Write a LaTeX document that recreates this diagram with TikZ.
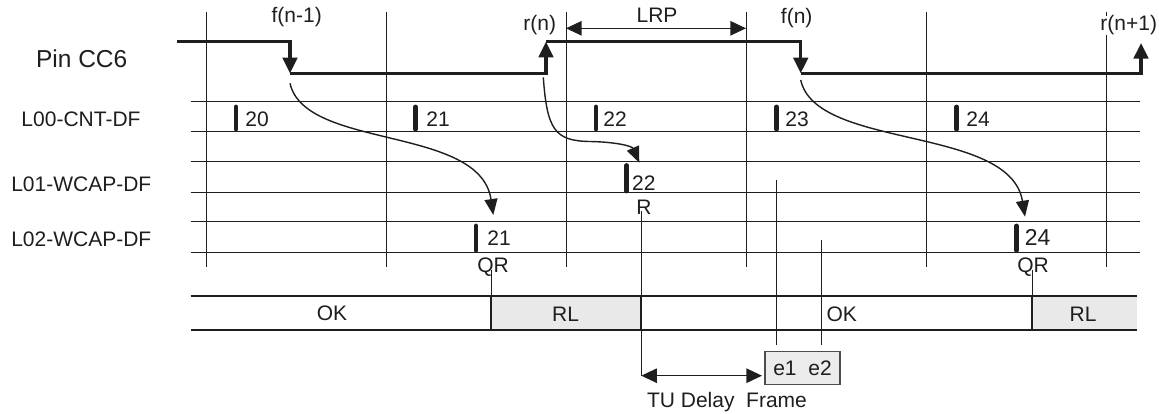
\documentclass[tikz,border=0pt]{standalone}
\usepackage{fontspec}
\setmainfont{Liberation Sans}
\usepackage{tikz}
\usetikzlibrary{arrows.meta,positioning}
\definecolor{rlgray}{RGB}{233,233,233}
\definecolor{framegray}{RGB}{236,236,236}
\definecolor{ink}{RGB}{30,30,30}

\begin{document}
\begin{tikzpicture}[
        x=0.5pt,y=-0.5pt,
        font=\fontsize{10.5}{12}\selectfont,
        color=ink,
        rowlabel/.style={inner sep=0pt},
        cnt/.style={inner sep=0pt,anchor=west},
        gridline/.style={line width=0.5pt},
        pinedge/.style={line width=1.7pt,-{Triangle[length=7.8pt,width=7.2pt]}},
        cntbar/.style={line width=2.4pt,line cap=round},
        capture/.style={line width=0.7pt,-{Triangle[length=8pt,width=6.5pt]}},
        dimline/.style={line width=0.7pt,{Triangle[length=7.8pt,width=7.2pt]}-{Triangle[length=7.8pt,width=7.2pt]}},
        statebox/.style={line width=1.1pt},
        marker/.style={line width=0.5pt},
        framebox/.style={draw=gray!60!black,line width=0.6pt,fill=framegray,minimum width=37.5pt,minimum height=16.5pt,inner sep=0pt}
    ]
        \useasboundingbox (0,0) rectangle (1159,413);

        % row names
        \node[rowlabel,font=\fontsize{12.25}{14}\selectfont] (pin) at (81.7,58.3) {Pin CC6};
        \node[rowlabel] (l00) at (81,119.3) {L00-CNT-DF};
        \node[rowlabel] (l01) at (81.3,184) {L01-WCAP-DF};
        \node[rowlabel] (l02) at (81.3,239.3) {L02-WCAP-DF};

        % time grid
        \draw[gridline] (206,12) -- (206,267);
        \draw[gridline] (386,12) -- (386,267);
        \draw[gridline] (566,12) -- (566,267);
        \draw[gridline] (746,12) -- (746,267);
        \draw[gridline] (926,12) -- (926,267);
        \draw[gridline] (1106,12) -- (1106,267);

        \draw[gridline] (190.7,101.5) -- (1140,101.5);
        \draw[gridline] (190.7,131.5) -- (1140,131.5);
        \draw[gridline] (190.7,161.7) -- (1140,161.7);
        \draw[gridline] (190.7,192.2) -- (1140,192.2);
        \draw[gridline] (190.7,221.8) -- (1140,221.8);
        \draw[gridline] (190.7,252) -- (1140,252);

        % edge labels
        \node[rowlabel] (fprev) at (296.7,17.3) {f(n-1)};
        \node[rowlabel] (rn) at (539.7,25) {r(n)};
        \node[rowlabel] (lrp) at (657,15) {LRP};
        \node[rowlabel] (fn) at (796.7,18.3) {f(n)};
        \node[rowlabel,fill=white] (rnext) at (1128.7,25.5) {r(n+1)};

        % pin CC6 signal
        \draw[pinedge] (177,41.7) -| (290,73.3);
        \draw[pinedge] (290,73.3) -| (546,41.7);
        \draw[pinedge] (546,41.7) -| (800.7,73.3);
        \draw[pinedge] (800.7,73.3) -| (1141,43);

        \draw[dimline] (566,28.3) -- (746,28.3);

        % counter values
        \draw[cntbar] (236,107) -- (236,129);
        \draw[cntbar] (415.7,107) -- (415.7,129);
        \draw[cntbar] (596,107) -- (596,129);
        \draw[cntbar] (776.7,107) -- (776.7,129);
        \draw[cntbar] (956.7,107) -- (956.7,129);
        \node[cnt] (c20) at (245,119.3) {20};
        \node[cnt] (c21) at (426,119.3) {21};
        \node[cnt] (c22) at (603,119.3) {22};
        \node[cnt] (c23) at (785,119.3) {23};
        \node[cnt] (c24) at (966,119.3) {24};

        \draw[cntbar] (626.7,165.5) -- (626.7,191);
        \node[cnt] (w22) at (631.7,182.7) {22};
        \node[rowlabel] (rmark) at (644,207.3) {R};

        \draw[cntbar] (476,226) -- (476,250.3);
        \draw[cntbar] (1016.7,226) -- (1016.7,250.3);
        \node[cnt] (q21) at (487,238.3) {21};
        \node[cnt,font=\fontsize{11.5}{13}\selectfont] (q24) at (1024.5,237.3) {24};
        \node[rowlabel] (qra) at (493,266.7) {QR};
        \node[rowlabel] (qrb) at (1033,266.7) {QR};

        % captures
        \draw[capture] (290,83.3) .. controls (305,150) and (480,125) .. (493.3,215);
        \draw[capture] (543.3,77.3) .. controls (547,130) and (555,141) .. (590,141.5) .. controls (616,142) and (632,146) .. (639.3,162.7);
        \draw[capture] (800.7,80) .. controls (816,150) and (1010,125) .. (1025,216.7);

        % state bar
        \fill[rlgray] (491,296.3) rectangle (641.3,330);
        \fill[rlgray] (1032,296.3) rectangle (1137,330);
        \draw[statebox] (190.5,296.3) -- (1137,296.3);
        \draw[statebox] (190.5,330) -- (1137,330);
        \draw[statebox] (491,296.3) -- (491,330);
        \draw[statebox] (641.3,296.3) -- (641.3,330);
        \draw[statebox] (1032,296.3) -- (1032,330);
        \node[rowlabel] (ok1) at (332,313.3) {OK};
        \node[rowlabel] (rl1) at (565.5,314) {RL};
        \node[rowlabel] (ok2) at (841.7,314) {OK};
        \node[rowlabel] (rl2) at (1083,314) {RL};

        \draw[marker] (491,270) -- (491,296.3);
        \draw[marker] (1032,270) -- (1032,296.3);

        % delay and error frame
        \coordinate (rfoot) at (641.3,211);
        \coordinate (tul) at (641.3,375.7);
        \coordinate (tur) at (762,375.7);
        \draw[marker] (rfoot) -- (tul);
        \draw[dimline] (tul) -- (tur);
        \node[framebox] (frame) at (802.5,368.3) {e1~~e2};
        \draw[marker] (776.7,180) -- (776.7,345);
        \draw[marker] (821.7,240) -- (821.7,345);
        \node[rowlabel] (tudelay) at (727,401.7) {TU Delay~~Frame};
    \end{tikzpicture}
\end{document}
